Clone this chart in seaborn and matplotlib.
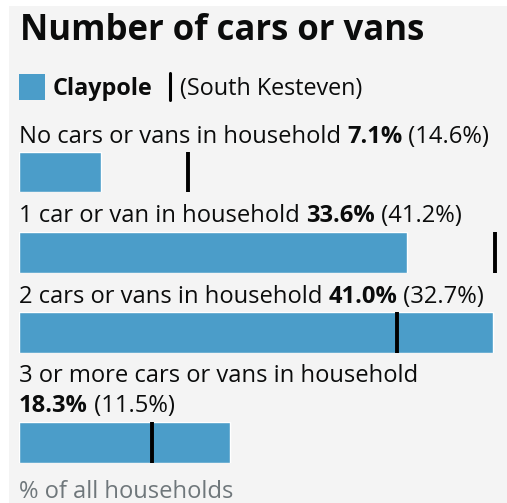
import matplotlib
matplotlib.use("Agg")
import matplotlib.pyplot as plt
import seaborn as sns
import pandas as pd
from matplotlib.patches import Rectangle

sns.set_theme(style="white")
plt.rcParams['font.family'] = ['Open Sans', 'DejaVu Sans']

title = "Number of cars or vans"
area_name = "Claypole"
compare_name = "(South Kesteven)"
categories = ["No cars or vans in household",
              "1 car or van in household",
              "2 cars or vans in household",
              "3 or more cars or vans in household"]
area_values = [7.1, 33.6, 41.0, 18.3]
compare_values = [14.6, 41.2, 32.7, 11.5]
axis_note = "% of all households"

W, H = 507, 503
DPI = 100
BLUE = "#4b9dc9"
BG = "#f4f4f4"
TXT = "#0b0c0c"
GREY = "#6f777b"
FS = 17.1

fig = plt.figure(figsize=(W / DPI, H / DPI), dpi=DPI)
fig.patch.set_facecolor("white")
fig.patches.append(Rectangle((9 / W, 0), 1, 1 - 6 / H, transform=fig.transFigure,
                             facecolor=BG, edgecolor="none", zorder=-10))

renderer = fig.canvas.get_renderer()

def px(x, y):
    return x / W, 1 - y / H

def put(x, y, s, **kw):
    t = fig.text(*px(x, y), s, va="baseline", ha="left", **kw)
    bb = t.get_window_extent(renderer=renderer)
    return x + bb.width

def label_line(x, y, parts, size=FS):
    for s, weight, color in parts:
        x = put(x, y, s, fontsize=size, fontweight=weight, color=color)
    return x

# Title
put(20, 40, title, fontsize=25, fontweight="bold", color=TXT)

# Legend
fig.patches.append(Rectangle(px(19, 100), 26 / W, 26 / H, transform=fig.transFigure,
                             facecolor=BLUE, edgecolor="none"))
put(53, 95, area_name, fontsize=16.8, fontweight="bold", color=TXT)
fig.add_artist(plt.Line2D([170 / W, 170 / W], [1 - 73 / H, 1 - 100 / H],
                          transform=fig.transFigure, color="black", lw=2.2))
put(180, 95, compare_name, fontsize=16.8, color=TXT)

# Bars
scale = 11.55  # px per percent
xmax = 42.0
bar_spans = [(152, 192), (232, 273), (312, 353), (422, 463)]
label_lines = [[(143, 0)], [(222, 0)], [(303, 0)], [(382, 0), (412, 1)]]

df = pd.DataFrame({"category": categories, "area": area_values, "compare": compare_values})

for i, row in df.iterrows():
    top, bot = bar_spans[i]
    ax = fig.add_axes([19 / W, 1 - bot / H, xmax * scale / W, (bot - top) / H])
    sns.barplot(data=df.iloc[[i]], x="area", y="category", orient="h",
                color=BLUE, width=1.0, saturation=1, ax=ax)
    ax.set_xlim(0, xmax)
    ax.set_ylim(0.5, -0.5)
    ax.axvline(row["compare"], color="black", lw=2.8, ymin=0, ymax=1)
    ax.set_axis_off()

    lines = label_lines[i]
    val = f"{row['area']:.1f}%"
    cmp = f"({row['compare']:.1f}%)"
    if len(lines) == 1:
        label_line(19, lines[0][0], [(row["category"] + " ", "normal", TXT),
                                     (val, "bold", TXT),
                                     (" " + cmp, "normal", TXT)])
    else:
        label_line(19, lines[0][0], [(row["category"], "normal", TXT)])
        label_line(19, lines[1][0], [(val, "bold", TXT), (" " + cmp, "normal", TXT)])

put(19, 498, axis_note, fontsize=FS, color=GREY)

fig.savefig("out.png", dpi=DPI, facecolor=fig.get_facecolor())
